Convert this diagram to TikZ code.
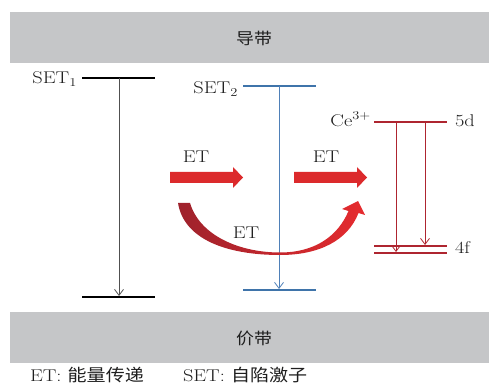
\documentclass[tikz,border=0pt]{standalone}
\usepackage{fontspec}
\usepackage{graphicx}
\newfontfamily\cjk{Noto Sans CJK SC}
\usetikzlibrary{arrows.meta}
\definecolor{bandc}{HTML}{C5C6C8}
\definecolor{txt}{HTML}{1E1E1E}
\definecolor{bluec}{HTML}{3F74AA}
\definecolor{bluev}{HTML}{4F80B8}
\definecolor{dred}{HTML}{AE2530}
\definecolor{ared}{HTML}{DC2A2C}
\definecolor{gleft}{HTML}{9E222C}
\definecolor{gright}{HTML}{E62B2E}
\definecolor{grayv}{HTML}{505050}
\newcommand\lbl[1]{\scalebox{1.2}[1]{\fontsize{17}{19}\selectfont #1}}
\newcommand\cjklbl[1]{\scalebox{1.12}[1]{\fontsize{16}{18}\selectfont\cjk #1}}
\newcommand\cjkleg[1]{\scalebox{1.12}[1]{\fontsize{17}{19}\selectfont\cjk #1}}
\begin{document}
\begin{tikzpicture}[x=1pt,y=-1pt,
  every node/.style={text=txt, inner sep=0pt, outer sep=0pt},
  band/.style={fill=bandc, draw=none},
  levk/.style={line width=2.6pt, black},
  levb/.style={line width=2.6pt, bluec},
  levr/.style={line width=2.6pt, dred},
  tipv/.style={-{Straight Barb[length=6pt,width=9pt]}},
  transk/.style={tipv, line width=0.8pt, grayv},
  transb/.style={tipv, line width=0.8pt, bluev},
  transr/.style={tipv, line width=0.8pt, dred},
  etarrow/.style={fill=ared, draw=none}]
\useasboundingbox (0,0) rectangle (489,387);

% bands
\fill[band] (10,12) rectangle (489,63);
\fill[band] (10,312) rectangle (489,363);
\node (cb) at (254,38) {\cjklbl{导带}};
\node (vb) at (254,338) {\cjklbl{价带}};

% SET1
\draw[levk] (82,78) -- (155,78);
\draw[levk] (82,297) -- (155,297);
\coordinate (s1t) at (119,78);
\coordinate (s1b) at (119,296);
\draw[transk] (s1t) -- (s1b);
\node[anchor=base east] (set1) at (77,84) {\lbl{$\mathrm{SET}_1$}};

% SET2
\draw[levb] (243,86) -- (316,86);
\draw[levb] (243,290) -- (316,290);
\coordinate (s2t) at (279,86);
\coordinate (s2b) at (279,289);
\draw[transb] (s2t) -- (s2b);
\node[anchor=base east] (set2) at (238,94) {\lbl{$\mathrm{SET}_2$}};

% Ce3+
\draw[levr] (374,122) -- (447,122);
\draw[levr] (374,246) -- (447,246);
\draw[levr] (374,253) -- (447,253);
\coordinate (c1t) at (396,122);
\coordinate (c1b) at (396,252);
\coordinate (c2t) at (425,122);
\coordinate (c2b) at (425,245);
\draw[transr] (c1t) -- (c1b);
\draw[transr] (c2t) -- (c2b);
\node[anchor=base east] (ce) at (371,127) {\lbl{$\mathrm{Ce}^{3+}$}};
\node[anchor=base west] (d5) at (455,127) {\lbl{5d}};
\node[anchor=base west] (f4) at (455,253) {\lbl{4f}};

% straight ET arrows
\fill[etarrow] (170,172) -- (233,172) -- (233,167) -- (243,177.5) -- (233,188) -- (233,183) -- (170,183) -- cycle;
\fill[etarrow] (294,172) -- (357,172) -- (357,167) -- (367,177.5) -- (357,188) -- (357,183) -- (294,183) -- cycle;
\node[anchor=base] (et1) at (196,163) {\lbl{ET}};
\node[anchor=base] (et2) at (326,163) {\lbl{ET}};

% curved ET arrow
\shade[left color=gleft, right color=gright]
  (178,203) -- (190,203)
  .. controls (200,236) and (240,252.5) .. (280,252.5)
  .. controls (315,252.5) and (338,236) .. (348.5,211)
  -- (342,209) -- (358,201) -- (365,215) -- (358.5,213)
  .. controls (348,240) and (320,255) .. (280,255)
  .. controls (228,255) and (184,240) .. (178,203) -- cycle;
\node[anchor=base] (et3) at (246,238) {\lbl{ET}};

% legend
\node[anchor=base west] (leg1) at (30,381) {\lbl{ET: }\cjkleg{能量传递}};
\node[anchor=base west] (leg2) at (183,381) {\lbl{SET: }\cjkleg{自陷激子}};
\end{tikzpicture}
\end{document}
